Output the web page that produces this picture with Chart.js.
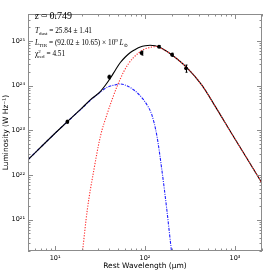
<!DOCTYPE html>
<html>
<head>
<meta charset="utf-8">
<script src="https://cdn.jsdelivr.net/npm/chart.js@4.4.0/dist/chart.umd.min.js"></script>
<style>
html, body { margin: 0; padding: 0; background: #fff; }
</style>
</head>
<body>
<canvas id="sed" width="272" height="273"></canvas>
<script>
// photometry (rest wavelength in micron, luminosity in W/Hz)
var ptWave = [13.7, 40.0, 91.5, 143, 200, 286];
var ptLum = [1.56e23, 1.56e24, 5.37e24, 7.43e24, 4.92e24, 2.44e24];
var ptErr = [1.2e22, 1.5e23, 5.5e23, 4.5e23, 4.0e23, 4.5e23];

// total fit (black)
var totalWave = [5, 10, 13.7, 19.7, 24.8, 32, 41.3, 46.9, 53.2, 60.4, 68.7, 78, 88.6, 100.5, 114, 129.7, 147, 167, 198, 290, 425, 623, 912, 1400, 2000];
var totalLum = [2.2e22, 8.6e22, 1.56e23, 3.1e23, 4.84e23, 7.46e23, 1.48e24, 2.24e24, 3.29e24, 4.37e24, 5.5e24, 6.43e24, 7.31e24, 7.78e24, 7.98e24, 7.82e24, 7.13e24, 6.17e24, 4.92e24, 2.57e24, 1.05e24, 3.1e23, 8.7e22, 2.15e22, 6.6e21];

// cold dust greybody (red dotted)
var coldWave = [19.5, 20.1, 22.8, 27.0, 32.0, 37.9, 43.1, 48.9, 57.8, 65.2, 74.6, 96.2, 114, 135, 147, 167, 198, 290, 425, 623, 912, 1400, 2000];
var coldLum = [1.07e20, 1.8e20, 1.65e21, 1.3e22, 7.5e22, 2.32e23, 4.9e23, 9.6e23, 2.02e24, 3.05e24, 4.26e24, 6.43e24, 7.13e24, 7.5e24, 7.0e24, 6.15e24, 4.9e24, 2.56e24, 1.05e24, 3.1e23, 8.7e22, 2.15e22, 6.6e21];

// warm dust / mid-IR power law (blue dash-dot)
var warmWave = [5, 10, 13.7, 19.7, 24.8, 29.4, 37.9, 46.9, 52, 57.8, 74.6, 96.2, 108, 119, 135, 154, 175, 197, 205];
var warmLum = [2.2e22, 8.6e22, 1.56e23, 3.05e23, 4.75e23, 6.27e23, 9.2e23, 1.04e24, 1.09e24, 1.06e24, 8.1e23, 4.84e23, 3.4e23, 2.24e23, 7.9e22, 1.3e22, 1.65e21, 2.0e20, 1.1e20];

// axes
var xMajor = [10, 100, 1000];
var yMajor = [1e21, 1e22, 1e23, 1e24, 1e25];
var xMin = 5, xMax = 2000;
var yMin = 2e20, yMax = 4e25;

var SERIF = '"Liberation Serif", "DejaVu Serif", serif';
var SANS = '"DejaVu Sans", "Liberation Sans", sans-serif';
var SUP = '⁰¹²³⁴⁵⁶⁷⁸⁹';

function pairs(xs, ys) {
    return xs.map(function(v, i) { return {x: v, y: ys[i]}; });
}

function powLabel(v) {
    var e = String(Math.round(Math.log10(v)));
    return '10' + e.split('').map(function(d) { return SUP[d]; }).join('');
}

// draws a row of text pieces: [text, font, dy, noAdvance]
function runText(ctx, x, y, parts) {
    parts.forEach(function(p) {
        ctx.font = p[1];
        ctx.fillText(p[0], x, y + (p[2] || 0));
        if (!p[3]) x += ctx.measureText(p[0]).width;
    });
}

// frame with inward major/minor ticks on all four sides
var frameTicks = {
    id: 'frameTicks',
    afterDraw: function(chart) {
        var ctx = chart.ctx, a = chart.chartArea;
        var xs = chart.scales.x, ys = chart.scales.y;
        ctx.save();
        ctx.strokeStyle = '#8c8c8c';
        ctx.lineWidth = 1;
        ctx.strokeRect(a.left + 0.5, a.top + 0.5, a.right - a.left - 1, a.bottom - a.top - 1);
        ctx.beginPath();
        for (var e = 0; e < 4; e++) {
            for (var k = 1; k < 10; k++) {
                var v = k * Math.pow(10, e);
                if (v < xMin || v > xMax) continue;
                var px = Math.round(xs.getPixelForValue(v)) + 0.5;
                var len = k == 1 ? 5 : 2.5;
                ctx.moveTo(px, a.bottom); ctx.lineTo(px, a.bottom - len);
                ctx.moveTo(px, a.top); ctx.lineTo(px, a.top + len);
            }
        }
        for (var e2 = 20; e2 < 26; e2++) {
            for (var k2 = 1; k2 < 10; k2++) {
                var w = k2 * Math.pow(10, e2);
                if (w < yMin || w > yMax) continue;
                var py = Math.round(ys.getPixelForValue(w)) + 0.5;
                var len2 = k2 == 1 ? 5 : 2.5;
                ctx.moveTo(a.left, py); ctx.lineTo(a.left + len2, py);
                ctx.moveTo(a.right, py); ctx.lineTo(a.right - len2, py);
            }
        }
        ctx.stroke();
        ctx.restore();
    }
};

// vertical error bars on the photometry
var errorBars = {
    id: 'errorBars',
    afterDatasetsDraw: function(chart) {
        var ctx = chart.ctx, xs = chart.scales.x, ys = chart.scales.y;
        ctx.save();
        ctx.strokeStyle = '#000';
        ctx.lineWidth = 1;
        ctx.beginPath();
        for (var i = 0; i < ptWave.length; i++) {
            var px = Math.round(xs.getPixelForValue(ptWave[i])) + 0.5;
            var lo = ys.getPixelForValue(ptLum[i] - ptErr[i]);
            var hi = ys.getPixelForValue(ptLum[i] + ptErr[i]);
            ctx.moveTo(px, lo); ctx.lineTo(px, hi);
            ctx.moveTo(px - 1, lo); ctx.lineTo(px + 1, lo);
            ctx.moveTo(px - 1, hi); ctx.lineTo(px + 1, hi);
        }
        ctx.stroke();
        ctx.restore();
    }
};

// fit results written in the upper left corner
var fitText = {
    id: 'fitText',
    afterDraw: function(chart) {
        var ctx = chart.ctx;
        var x0 = chart.chartArea.left + 7;
        ctx.save();
        ctx.fillStyle = '#000';
        ctx.textBaseline = 'alphabetic';
        var it = 'italic 7.3px ' + SERIF, rm = '7.3px ' + SERIF, sm = '5px ' + SERIF;
        runText(ctx, x0, 19, [['z', 'italic 10px ' + SERIF], [' = 0.749', '10px ' + SERIF]]);
        runText(ctx, x0, 33, [['T', it], ['dust', sm, 1.5], [' = 25.84 ± 1.41', rm]]);
        runText(ctx, x0, 45, [['L', it], ['TIR', sm, 1.5], [' = (92.02 ± 10.65) × 10', rm], ['9', sm, -3], [' L', it], ['⊙', sm, 1.5]]);
        runText(ctx, x0, 56, [['χ', rm], ['2', sm, -3.5, true], ['red', sm, 1.5], [' = 4.51', rm]]);
        ctx.restore();
    }
};

var lineStyle = {
    pointRadius: 0,
    fill: false,
    borderWidth: 1.1,
    cubicInterpolationMode: 'monotone'
};

new Chart(document.getElementById('sed'), {
    type: 'line',
    data: {
        // first dataset is drawn on top: points, red, black, blue
        datasets: [
            {
                label: 'data',
                data: pairs(ptWave, ptLum),
                showLine: false,
                pointRadius: 1.9,
                pointBackgroundColor: '#000',
                pointBorderWidth: 0
            },
            Object.assign({label: 'cold', data: pairs(coldWave, coldLum), borderColor: '#ff2a2a', borderDash: [1.2, 1.5]}, lineStyle),
            Object.assign({label: 'total', data: pairs(totalWave, totalLum), borderColor: '#000'}, lineStyle),
            Object.assign({label: 'warm', data: pairs(warmWave, warmLum), borderColor: '#1f1fff', borderDash: [3, 1.2, 1, 1.2]}, lineStyle)
        ]
    },
    options: {
        responsive: false,
        animation: false,
        devicePixelRatio: 1,
        layout: {padding: {top: 14, right: 10, left: 0, bottom: 0}},
        plugins: {
            legend: {display: false},
            tooltip: {enabled: false}
        },
        scales: {
            x: {
                type: 'logarithmic',
                min: xMin,
                max: xMax,
                grid: {display: false, drawTicks: false},
                border: {display: false},
                afterBuildTicks: function(s) { s.ticks = xMajor.map(function(v) { return {value: v}; }); },
                afterFit: function(s) { s.height = 22; },
                ticks: {callback: powLabel, color: '#000', padding: 3, maxRotation: 0, autoSkip: false, font: {family: SANS, size: 6.5}},
                title: {display: true, text: 'Rest Wavelength (μm)', color: '#000', font: {family: SANS, size: 7.5}, padding: {top: 0, bottom: 2}}
            },
            y: {
                type: 'logarithmic',
                min: yMin,
                max: yMax,
                grid: {display: false, drawTicks: false},
                border: {display: false},
                afterBuildTicks: function(s) { s.ticks = yMajor.map(function(v) { return {value: v}; }); },
                afterFit: function(s) { s.width = 28; },
                ticks: {callback: powLabel, color: '#000', padding: 3, autoSkip: false, font: {family: SANS, size: 6.5}},
                title: {display: true, text: 'Luminosity (W Hz⁻¹)', color: '#000', font: {family: SANS, size: 7.5}, padding: {top: 2, bottom: 0}}
            }
        }
    },
    plugins: [frameTicks, errorBars, fitText]
});
</script>
</body>
</html>
